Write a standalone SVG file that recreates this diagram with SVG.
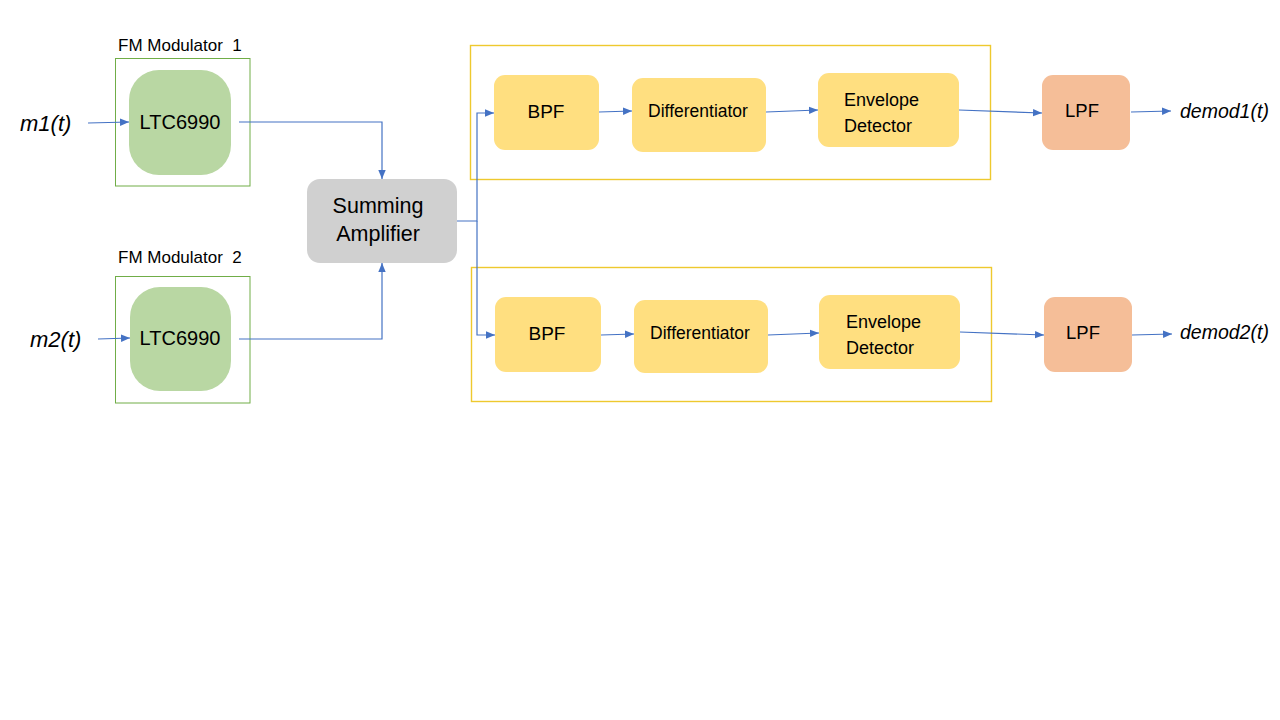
<svg xmlns="http://www.w3.org/2000/svg" width="1280" height="720" viewBox="0 0 1280 720">
<defs>
<marker id="arr" markerWidth="10" markerHeight="9" refX="9" refY="4.5" orient="auto" markerUnits="userSpaceOnUse">
<path d="M0,0.8 L9,4.5 L0,8.2 Z" fill="#4472C4"/>
</marker>
<style>
.t{font-family:"Liberation Sans",Arial,sans-serif;fill:#000}
.it{font-family:"Liberation Sans",Arial,sans-serif;font-style:italic;fill:#000}
.c{stroke:#4472C4;stroke-width:1.2;fill:none}
.gframe{fill:none;stroke:#70AD47;stroke-width:1}
.yframe{fill:none;stroke:#EEC92E;stroke-width:1.4}
.green{fill:#B9D7A3}
.yel{fill:#FFDF80}
.org{fill:#F5BE98}
.gray{fill:#D0D0D0}
</style>
</defs>
<rect width="1280" height="720" fill="#fff"/>

<g id="mod1">
<text class="t" x="118" y="51" font-size="17" xml:space="preserve" style="white-space:pre">FM Modulator  1</text>
<rect class="gframe" x="115.5" y="58.5" width="134.5" height="127.5"/>
<rect class="green" x="129" y="70" width="102" height="105" rx="30"/>
<text class="t" x="180" y="122" font-size="20" text-anchor="middle" dominant-baseline="central">LTC6990</text>
</g>
<g id="mod2">
<text class="t" x="118" y="263" font-size="17" xml:space="preserve" style="white-space:pre">FM Modulator  2</text>
<rect class="gframe" x="115.5" y="276.5" width="134.5" height="126.5"/>
<rect class="green" x="130" y="287" width="101" height="104" rx="30"/>
<text class="t" x="180" y="338" font-size="20" text-anchor="middle" dominant-baseline="central">LTC6990</text>
</g>
<g id="in1"><text class="it" x="20" y="123" font-size="22" dominant-baseline="central">m1(t)</text></g>
<g id="in2"><text class="it" x="30" y="339" font-size="22" dominant-baseline="central">m2(t)</text></g>

<g id="sum">
<rect class="gray" x="307" y="179" width="150" height="84" rx="13"/>
<text class="t" x="378" y="206" font-size="21.5" text-anchor="middle" dominant-baseline="central">Summing</text>
<text class="t" x="378" y="234" font-size="21.5" text-anchor="middle" dominant-baseline="central">Amplifier</text>
</g>

<g id="demod1frame"><rect class="yframe" x="470.5" y="45.5" width="520" height="134"/></g>
<g id="demod2frame"><rect class="yframe" x="471.5" y="267.5" width="520" height="134"/></g>

<g id="bpf1">
<rect class="yel" x="494" y="75" width="105" height="75" rx="11"/>
<text class="t" x="546" y="111" font-size="19" text-anchor="middle" dominant-baseline="central">BPF</text>
</g>
<g id="diff1">
<rect class="yel" x="632" y="78" width="134" height="74" rx="11"/>
<text class="t" x="698" y="111" font-size="17.5" text-anchor="middle" dominant-baseline="central">Differentiator</text>
</g>
<g id="env1">
<rect class="yel" x="818" y="73" width="141" height="74" rx="11"/>
<text class="t" x="844" y="100" font-size="18" dominant-baseline="central">Envelope</text>
<text class="t" x="844" y="126" font-size="18" dominant-baseline="central">Detector</text>
</g>
<g id="lpf1">
<rect class="org" x="1042" y="75" width="88" height="75" rx="11"/>
<text class="t" x="1082" y="110" font-size="18.5" text-anchor="middle" dominant-baseline="central">LPF</text>
</g>
<g id="out1"><text class="it" x="1180" y="111" font-size="19.5" dominant-baseline="central">demod1(t)</text></g>

<g id="bpf2">
<rect class="yel" x="495" y="297" width="106" height="75" rx="11"/>
<text class="t" x="547" y="333" font-size="19" text-anchor="middle" dominant-baseline="central">BPF</text>
</g>
<g id="diff2">
<rect class="yel" x="634" y="300" width="134" height="73" rx="11"/>
<text class="t" x="700" y="333" font-size="17.5" text-anchor="middle" dominant-baseline="central">Differentiator</text>
</g>
<g id="env2">
<rect class="yel" x="819" y="295" width="141" height="74" rx="11"/>
<text class="t" x="846" y="322" font-size="18" dominant-baseline="central">Envelope</text>
<text class="t" x="846" y="348" font-size="18" dominant-baseline="central">Detector</text>
</g>
<g id="lpf2">
<rect class="org" x="1044" y="297" width="88" height="75" rx="11"/>
<text class="t" x="1083" y="332" font-size="18.5" text-anchor="middle" dominant-baseline="central">LPF</text>
</g>
<g id="out2"><text class="it" x="1180" y="332" font-size="19.5" dominant-baseline="central">demod2(t)</text></g>

<g id="connectors">
<path class="c" d="M88,123 L129,122" marker-end="url(#arr)"/>
<path class="c" d="M98,339 L130,338" marker-end="url(#arr)"/>
<path class="c" d="M239,122 H382 V179" marker-end="url(#arr)"/>
<path class="c" d="M239,339 H382 V263" marker-end="url(#arr)"/>
<path class="c" d="M457,221 H477 V113 H494" marker-end="url(#arr)"/>
<path class="c" d="M477,221 V335 H495" marker-end="url(#arr)"/>
<path class="c" d="M599,112 L632,111" marker-end="url(#arr)"/>
<path class="c" d="M766,112 L818,110" marker-end="url(#arr)"/>
<path class="c" d="M959,110 L1042,113" marker-end="url(#arr)"/>
<path class="c" d="M1131,112 L1171,111" marker-end="url(#arr)"/>
<path class="c" d="M601,335 L634,334" marker-end="url(#arr)"/>
<path class="c" d="M768,335 L819,333" marker-end="url(#arr)"/>
<path class="c" d="M960,332 L1044,335" marker-end="url(#arr)"/>
<path class="c" d="M1132,335 L1172,334" marker-end="url(#arr)"/>
</g>
</svg>
